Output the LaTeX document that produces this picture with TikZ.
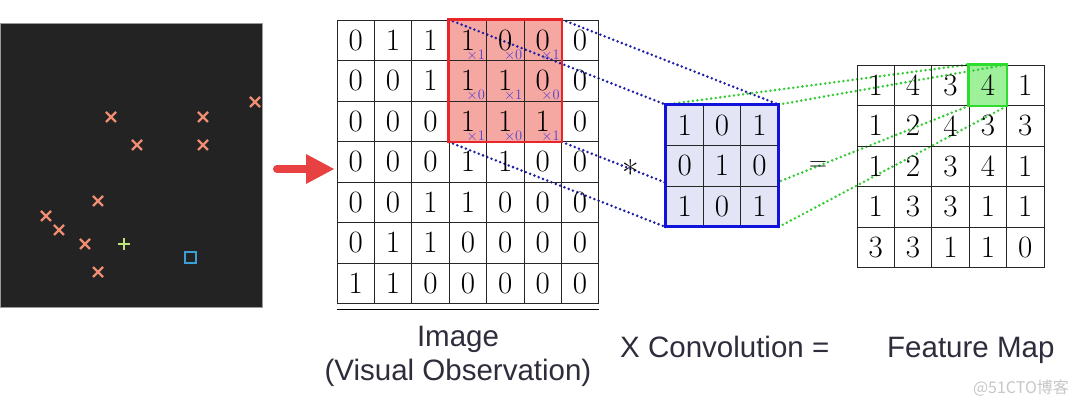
\documentclass[tikz,border=0pt]{standalone}
\usepackage{fontspec}
\newfontfamily\labelfont{Liberation Sans}
\newfontfamily\cjkfont{Noto Sans CJK SC}
\definecolor{panel}{HTML}{232323}
\definecolor{paneledge}{HTML}{9A9A9A}
\definecolor{salmon}{HTML}{F08C72}
\definecolor{plusgreen}{HTML}{BFE57A}
\definecolor{sqblue}{HTML}{3A9FD5}
\definecolor{arrowred}{HTML}{E84141}
\definecolor{redfill}{HTML}{F5A7A2}
\definecolor{redborder}{HTML}{E8262A}
\definecolor{wblue}{HTML}{4B3FD6}
\definecolor{dblue}{HTML}{1E1EA6}
\definecolor{kfill}{HTML}{E4E4F7}
\definecolor{kborder}{HTML}{1212DD}
\definecolor{gfill}{HTML}{9EF09A}
\definecolor{gborder}{HTML}{2DDC2D}
\definecolor{dgreen}{HTML}{34CC34}
\definecolor{lblcol}{HTML}{2D2D3C}
\pgfdeclarelayer{bg}
\pgfdeclarelayer{mid}
\pgfsetlayers{bg,mid,main}
\begin{document}
\begin{tikzpicture}[x=1pt,y=-1pt,
  cell/.style={draw=black!85, line width=0.9pt, minimum width=37.4pt, minimum height=40.5pt,
    inner sep=0pt, font=\fontsize{31}{31}\selectfont, anchor=center},
  kcell/.style={cell, fill=kfill},
  wt/.style={font=\fontsize{14}{14}\selectfont, text=wblue, inner sep=0pt, anchor=south east},
  bdots/.style={draw=dblue, line width=2.8pt, line cap=round, dash pattern=on 0pt off 4.6pt},
  gdots/.style={draw=dgreen, line width=2.8pt, line cap=round, dash pattern=on 0pt off 4.6pt},
  lbl/.style={font=\labelfont\fontsize{29.5}{34}\selectfont, text=lblcol, align=center, inner sep=0pt},
  xmark/.style={draw=salmon, line width=2.2pt},
  sym/.style={font=\fontsize{28}{28}\selectfont, inner sep=0pt},
]
\useasboundingbox (0,0) rectangle (1080,406);
\begin{pgfonlayer}{bg}
  \fill[white] (0,0) rectangle (1080,406);
\end{pgfonlayer}

% left dark panel
\draw[fill=panel, draw=paneledge, line width=0.6pt] (0,23) rectangle (262,307);
\foreach \x/\y in {255/102, 111/117, 203/117, 137/145, 203/145, 98/201, 46/216, 59/230, 85/244, 98/272}
  \draw[xmark] (\x-5,\y-5) -- (\x+5,\y+5) (\x-5,\y+5) -- (\x+5,\y-5);
\draw[draw=plusgreen, line width=2.2pt] (118,244) -- (130,244) (124,238) -- (124,250);
\draw[draw=sqblue, line width=2pt] (184.5,252.5) rectangle (195.5,263.5);

% red arrow
\draw[arrowred, line width=8pt, line cap=round] (277,169) -- (309,169);
\fill[arrowred] (306,154) -- (334,169) -- (306,184) -- cycle;

% image grid
\foreach \row [count=\i from 0] in {{0,1,1,1,0,0,0},{0,0,1,1,1,0,0},{0,0,0,1,1,1,0},{0,0,0,1,1,0,0},{0,0,1,1,0,0,0},{0,1,1,0,0,0,0},{1,1,0,0,0,0,0}}
  \foreach \v [count=\j from 0] in \row
    \node[cell] (img-\i-\j) at ({337+(\j+0.5)*37.4},{20+(\i+0.5)*40.5}) {\v};
\draw[line width=1pt] ([yshift=-6pt]img-6-0.south west) -- ([yshift=-6pt]img-6-6.south east);

% feature map grid
\foreach \row [count=\i from 0] in {{1,4,3,4,1},{1,2,4,3,3},{1,2,3,4,1},{1,3,3,1,1},{3,3,1,1,0}}
  \foreach \v [count=\j from 0] in \row
    \node[cell] (fm-\i-\j) at ({857+(\j+0.5)*37.4},{65+(\i+0.5)*40.5}) {\v};

% kernel grid
\foreach \row [count=\i from 0] in {{1,0,1},{0,1,0},{1,0,1}}
  \foreach \v [count=\j from 0] in \row
    \node[kcell] (k-\i-\j) at ({666+(\j+0.5)*37.4},{105+(\i+0.5)*40.5}) {\v};

% highlighted fills
\begin{pgfonlayer}{bg}
  \fill[redfill] (img-0-3.north west) rectangle (img-2-5.south east);
  \fill[gfill] (fm-0-3.north west) rectangle (fm-0-3.south east);
\end{pgfonlayer}

% weights in the red window
\foreach \row [count=\i from 0] in {{1,0,1},{0,1,0},{1,0,1}}
  \foreach \v [count=\j from 0] in \row {
    \pgfmathtruncatemacro{\c}{\j+3}
    \node[wt] (w-\i-\j) at ([xshift=-2pt,yshift=0.5pt]img-\i-\c.south east) {$\times\v$};
  }

% borders
\draw[redborder, line width=2.6pt] (img-0-3.north west) rectangle (img-2-5.south east);
\draw[kborder, line width=3pt] (k-0-0.north west) rectangle (k-2-2.south east);
\draw[gborder, line width=2.6pt] (fm-0-3.north west) rectangle (fm-0-3.south east);

% dotted projection lines
\begin{pgfonlayer}{mid}
  \draw[bdots] (img-0-3.north west) -- (k-0-0.north west);
  \draw[bdots] (img-0-5.north east) -- (k-0-2.north east);
  \draw[bdots] (img-2-3.south west) -- (k-2-0.south west);
  \draw[bdots] (img-2-5.south east) -- (k-2-2.south east);
  \draw[gdots] (k-0-0.north west) -- (fm-0-3.north west);
  \draw[gdots] (k-0-2.north east) -- (fm-0-3.north east);
  \draw[gdots] (k-2-0.south west) -- (fm-0-3.south west);
  \draw[gdots] (k-2-2.south east) -- (fm-0-3.south east);
\end{pgfonlayer}

% operators
\node[sym, font=\fontsize{36}{36}\selectfont, anchor=base] (ast) at (631,187) {*};
\node[sym] (eq) at (818,166) {$=$};

% labels
\node[lbl] (lblimg) at (458,356) {Image\\(Visual Observation)};
\node[lbl, anchor=base west] (lblconv) at (620,358) {X Convolution =};
\node[lbl, anchor=base west] (lblfm) at (887,358) {Feature Map};
\node[font=\cjkfont\fontsize{16}{16}\selectfont, text=black!22, inner sep=0pt] (wm) at (1021,388) {@51CTO博客};
\end{tikzpicture}
\end{document}
